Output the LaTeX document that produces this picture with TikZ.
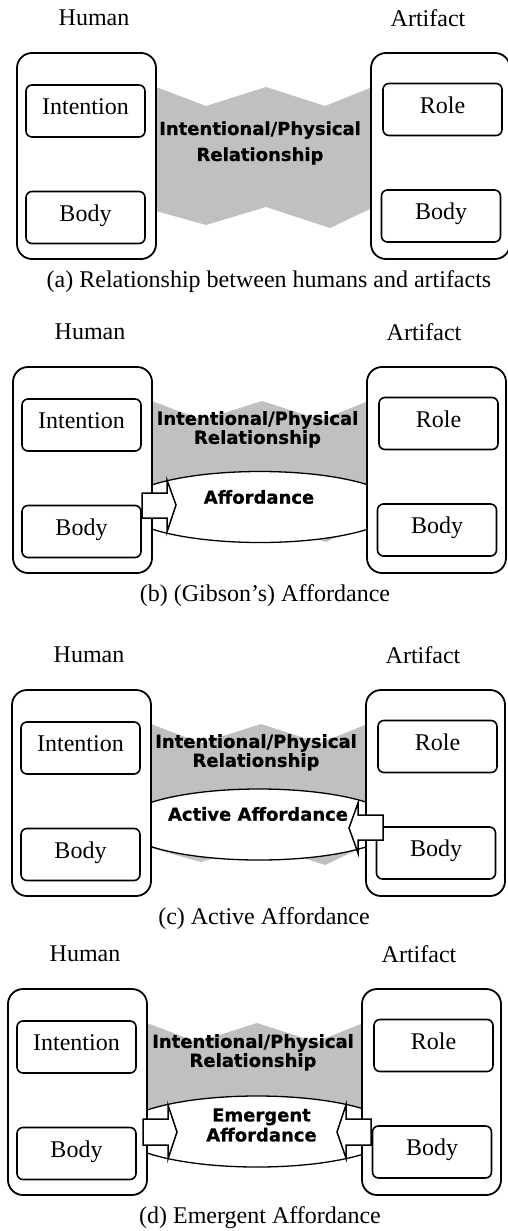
\documentclass[tikz,border=0pt]{standalone}
\usepackage{fontspec}
\setmainfont{Liberation Serif}
\newfontfamily\relfont{DejaVu Sans}[BoldFeatures={FakeBold=0.6}]
\usetikzlibrary{shapes.geometric}
\definecolor{relgray}{RGB}{192,192,192}
\tikzset{
  outerbox/.style={draw, line width=1.8pt, rounded corners=15pt, fill=white,
    minimum width=139pt, minimum height=206pt, inner sep=0pt},
  inbox/.style={draw, line width=1.6pt, rounded corners=6pt, fill=white,
    minimum width=119pt, minimum height=52pt, inner sep=0pt,
    font=\fontsize{24}{28}\selectfont, text height=13pt, text depth=6pt},
  seriflabel/.style={font=\fontsize{24}{28}\selectfont, inner sep=0pt},
  graytext/.style={font={\relfont\bfseries\fontsize{18}{19}\selectfont}, align=center, inner sep=0pt},
  affell/.style={draw, line width=1.3pt, fill=white, ellipse,
    minimum width=276pt, minimum height=71pt, inner sep=0pt},
  blockarrow/.style={draw, line width=1.5pt, fill=white, line join=miter},
  zigzag/.style={fill=relgray}
}
% boxes, labels and caption of one panel (#1 = prefix, #2 = caption)
\newcommand\hapanel[2]{%
  \node[seriflabel] (#1-hl) at (77,-35) {Human};
  \node[seriflabel] (#1-al) at (411,-35) {Artifact};
  \node[outerbox] (#1-human) at (69.5,103) {};
  \node[outerbox] (#1-artifact) at (423.5,103) {};
  \node[inbox] (#1-int) at (68.5,58) {Intention};
  \node[inbox] (#1-hbody) at (68.5,164.5) {Body};
  \node[inbox] (#1-role) at (425.5,56.5) {Role};
  \node[inbox] (#1-abody) at (424,163) {Body};
  \node[seriflabel] (#1-cap) at (252,228.5) {#2};
}
\newcommand\grayband{%
  \fill[zigzag] (125,34) -- (139,34) -- (189,53) -- (249,34) -- (308,53) -- (353,35)
    -- (368,35) -- (368,156) -- (353,156) -- (313,175) -- (249,154) -- (189,172)
    -- (139,158) -- (125,158) -- cycle;
}
\begin{document}
\begin{tikzpicture}[x=1pt,y=-1pt]
\useasboundingbox (0,0) rectangle (507,1231);

% ---------- (a) ----------
\begin{scope}[shift={(17,53)}]
  \grayband
  \node[graytext, font={\relfont\bfseries\fontsize{18}{26}\selectfont}] (a-rel) at (243,90)
    {Intentional/Physical\\Relationship};
  \hapanel{a}{(a) Relationship between humans and artifacts}
\end{scope}

% ---------- (b) ----------
\begin{scope}[shift={(13,367)}]
  \grayband
  \node[graytext] (b-rel) at (244.5,62.4) {Intentional/Physical\\Relationship};
  \node[affell] (b-ell) at (247,140) {};
  \node[graytext] (b-aff) at (246,130) {Affordance};
  \hapanel{b}{(b) (Gibson's) Affordance}
  \draw[blockarrow] (129,126) -- (154,126) -- (154,113) -- (163,138) -- (154,165)
    -- (154,151) -- (129,151) -- cycle;
\end{scope}

% ---------- (c) ----------
\begin{scope}[shift={(12,690)}]
  \grayband
  \node[graytext] (c-rel) at (244,62.4) {Intentional/Physical\\Relationship};
  \node[affell] (c-ell) at (247,134.5) {};
  \node[graytext] (c-aff) at (246,124) {Active Affordance};
  \hapanel{c}{(c) Active Affordance}
  \draw[blockarrow] (371,125) -- (346,125) -- (346,113) -- (337,138) -- (346,163)
    -- (346,150) -- (371,150) -- cycle;
\end{scope}

% ---------- (d) ----------
\begin{scope}[shift={(8,989)}]
  \grayband
  \node[graytext] (d-rel) at (245,63.4) {Intentional/Physical\\Relationship};
  \node[affell] (d-ell) at (249,142.5) {};
  \node[graytext, font={\relfont\bfseries\fontsize{18}{20}\selectfont}] (d-aff) at (253.5,136)
    {Emergent\\Affordance};
  \hapanel{d}{(d) Emergent Affordance}
  \draw[blockarrow] (135,130) -- (160,130) -- (160,116) -- (169,143) -- (160,170)
    -- (160,156) -- (135,156) -- cycle;
  \draw[blockarrow] (363,130) -- (338,130) -- (338,116) -- (329,143) -- (338,169)
    -- (338,156) -- (363,156) -- cycle;
\end{scope}
\end{tikzpicture}
\end{document}
